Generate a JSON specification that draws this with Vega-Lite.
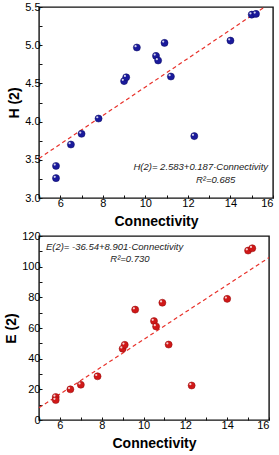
{
  "$schema": "https://vega.github.io/schema/vega-lite/v6.json",
  "padding": {"left": 3, "top": 0, "right": 0, "bottom": 0},
  "spacing": 0,
  "config": {
    "view": {"stroke": "#111", "strokeWidth": 1.4},
    "axis": {"grid": false, "domain": false, "tickColor": "#111", "labelColor": "black", "titleColor": "black", "labelFontSize": 11, "titleFontSize": 14, "titleFontWeight": "bold", "tickSize": -3, "labelPadding": 2, "titlePadding": 6, "labelFont": "Liberation Sans", "titleFont": "Liberation Sans"}
  },
  "datasets": {
    "pts": [
      {"c": 5.8, "H": 3.42, "E": 15},
      {"c": 5.8, "H": 3.26, "E": 13},
      {"c": 6.5, "H": 3.70, "E": 20},
      {"c": 7.0, "H": 3.84, "E": 23},
      {"c": 7.8, "H": 4.04, "E": 28.5},
      {"c": 9.0, "H": 4.53, "E": 46.5},
      {"c": 9.1, "H": 4.58, "E": 49},
      {"c": 9.6, "H": 4.97, "E": 72},
      {"c": 10.5, "H": 4.86, "E": 64.5},
      {"c": 10.6, "H": 4.80, "E": 61},
      {"c": 10.9, "H": 5.03, "E": 76.5},
      {"c": 11.2, "H": 4.59, "E": 49.2},
      {"c": 12.3, "H": 3.81, "E": 22.5},
      {"c": 14.0, "H": 5.06, "E": 79},
      {"c": 15.0, "H": 5.40, "E": 110.5},
      {"c": 15.2, "H": 5.41, "E": 112}
    ],
    "lineH": [{"c": 5, "H": 3.518}, {"c": 15.6, "H": 5.5}],
    "lineE": [{"c": 5, "E": 7.97}, {"c": 16, "E": 105.9}],
    "txtH": [{"c": 15.77, "H": 3.41, "t": "H(2)= 2.583+0.187·Connectivity"}],
    "r2H": [{"c": 13.3, "H": 3.23, "t": "R²=0.685"}],
    "txtE": [{"c": 5.33, "E": 112.8, "t": "E(2)= -36.54+8.901·Connectivity"}],
    "r2E": [{"c": 9.35, "E": 105, "t": "R²=0.730"}]
  },
  "vconcat": [
    {
      "width": 234,
      "height": 191,
      "encoding": {
        "x": {"field": "c", "type": "quantitative", "scale": {"domain": [5, 16]}, "axis": {"values": [5, 6, 7, 8, 9, 10, 11, 12, 13, 14, 15, 16], "labelExpr": "datum.value % 2 == 0 ? datum.label : ''", "labelOverlap": false, "title": "Connectivity"}},
        "y": {"field": "H", "type": "quantitative", "scale": {"domain": [3, 5.5]}, "axis": {"values": [3, 3.25, 3.5, 3.75, 4, 4.25, 4.5, 4.75, 5, 5.25, 5.5], "labelExpr": "round(datum.value * 4) % 2 == 0 ? format(datum.value, '.1f') : ''", "labelOverlap": false, "titlePadding": 3, "title": "H (2)"}}
      },
      "layer": [
        {
          "data": {"name": "lineH"},
          "mark": {"type": "line", "color": "#e8312a", "strokeDash": [4, 3], "strokeWidth": 1.2}
        },
        {
          "data": {"name": "pts"},
          "mark": {"type": "circle", "size": 50, "color": "#1a1a9c", "opacity": 1, "stroke": "#0a0a60", "strokeWidth": 0.5}
        },
        {
          "data": {"name": "pts"},
          "mark": {"type": "circle", "size": 5, "color": "white", "opacity": 0.8, "xOffset": -1.3, "yOffset": -1.3}
        },
        {
          "data": {"name": "txtH"},
          "mark": {"type": "text", "font": "Liberation Sans", "fontStyle": "italic", "fontSize": 9.5, "align": "right", "color": "#222"},
          "encoding": {"text": {"field": "t"}}
        },
        {
          "data": {"name": "r2H"},
          "mark": {"type": "text", "font": "Liberation Sans", "fontStyle": "italic", "fontSize": 9.5, "align": "center", "color": "#222"},
          "encoding": {"text": {"field": "t"}}
        }
      ]
    },
    {
      "width": 230,
      "height": 184,
      "encoding": {
        "x": {"field": "c", "type": "quantitative", "scale": {"domain": [5, 16]}, "axis": {"values": [5, 6, 7, 8, 9, 10, 11, 12, 13, 14, 15, 16], "labelExpr": "datum.value % 2 == 0 ? datum.label : ''", "labelOverlap": false, "title": "Connectivity"}},
        "y": {"field": "E", "type": "quantitative", "scale": {"domain": [0, 120]}, "axis": {"values": [0, 10, 20, 30, 40, 50, 60, 70, 80, 90, 100, 110, 120], "labelExpr": "datum.value % 20 == 0 ? datum.label : ''", "labelOverlap": false, "titlePadding": 3, "title": "E (2)"}}
      },
      "layer": [
        {
          "data": {"name": "lineE"},
          "mark": {"type": "line", "color": "#e8312a", "strokeDash": [4, 3], "strokeWidth": 1.2}
        },
        {
          "data": {"name": "pts"},
          "mark": {"type": "circle", "size": 50, "color": "#d01818", "opacity": 1, "stroke": "#900a0a", "strokeWidth": 0.5}
        },
        {
          "data": {"name": "pts"},
          "mark": {"type": "circle", "size": 5, "color": "white", "opacity": 0.8, "xOffset": -1.3, "yOffset": -1.3}
        },
        {
          "data": {"name": "txtE"},
          "mark": {"type": "text", "font": "Liberation Sans", "fontStyle": "italic", "fontSize": 9.5, "align": "left", "color": "#222"},
          "encoding": {"text": {"field": "t"}}
        },
        {
          "data": {"name": "r2E"},
          "mark": {"type": "text", "font": "Liberation Sans", "fontStyle": "italic", "fontSize": 9.5, "align": "center", "color": "#222"},
          "encoding": {"text": {"field": "t"}}
        }
      ]
    }
  ]
}
